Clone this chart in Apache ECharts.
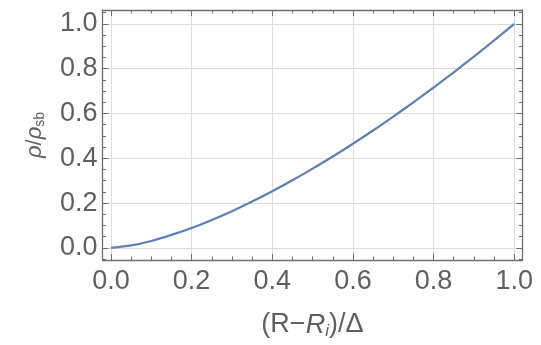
<!DOCTYPE html>
<html>
<head>
<meta charset="utf-8">
<script src="https://cdn.jsdelivr.net/npm/echarts@6/dist/echarts.min.js"></script>
<style>
  html, body { margin: 0; padding: 0; background: #fff; }
  #chart { width: 541px; height: 345px; }
</style>
</head>
<body>
<div id="chart"></div>
<script>
// Normalised radial coordinate (R - R_i)/Δ and normalised density ρ/ρ_sb
const xValues = [0, 0.05, 0.1, 0.15, 0.2, 0.25, 0.3, 0.35, 0.4, 0.45, 0.5,
                 0.55, 0.6, 0.65, 0.7, 0.75, 0.8, 0.85, 0.9, 0.95, 1.0];
const rhoValues = [0, 0.011, 0.031, 0.058, 0.089, 0.125, 0.164, 0.207, 0.253, 0.302, 0.354,
                   0.408, 0.465, 0.524, 0.586, 0.65, 0.716, 0.784, 0.854, 0.926, 1.0];

// Tick labels and tick positions
const majorTicks = [0, 0.2, 0.4, 0.6, 0.8, 1.0];
const xMinorTicks = [0.05, 0.1, 0.15, 0.25, 0.3, 0.35, 0.45, 0.5, 0.55,
                     0.65, 0.7, 0.75, 0.85, 0.9, 0.95];
const yMinorTicks = [-0.05, 0.05, 0.1, 0.15, 0.25, 0.3, 0.35, 0.45, 0.5, 0.55,
                     0.65, 0.7, 0.75, 0.85, 0.9, 0.95, 1.05];

const X_MIN = -0.021, X_MAX = 1.02;
const Y_MIN = -0.054, Y_MAX = 1.062;

const FRAME = '#6e6e6e';
const TEXT = '#5f5f5f';
const GRID = '#dcdcdc';
const FONT = '"Liberation Sans", Arial, sans-serif';

function frameAxis(kind, position, ticks, len, opts) {
  const isX = kind === 'x';
  return Object.assign({
    type: 'value',
    position: position,
    min: isX ? X_MIN : Y_MIN,
    max: isX ? X_MAX : Y_MAX,
    axisLine: { show: false, onZero: false },
    axisTick: { show: true, inside: true, length: len, customValues: ticks,
                lineStyle: { color: FRAME, width: 1 } },
    axisLabel: { show: false },
    splitLine: { show: false },
    minorTick: { show: false },
    silent: true
  }, opts || {});
}

const chart = echarts.init(document.getElementById('chart'), null, { renderer: 'canvas' });

chart.setOption({
  animation: false,
  grid: { left: 102.5, right: 18.7, top: 10, bottom: 75.7, containLabel: false },
  xAxis: [
    frameAxis('x', 'bottom', majorTicks, 6, {
      axisLine: { show: true, onZero: false, lineStyle: { color: FRAME, width: 1.3 } },
      axisLabel: { show: true, customValues: majorTicks, margin: 8,
                   color: TEXT, fontSize: 27, fontFamily: FONT,
                   formatter: v => v.toFixed(1) },
      splitLine: { show: true, lineStyle: { color: GRID, width: 1 } },
      name: '(R\u2212{it|R}{sub|i})/\u0394',
      nameLocation: 'middle',
      nameGap: 50,
      nameTextStyle: {
        color: TEXT, fontSize: 27, fontFamily: FONT, lineHeight: 30,
        rich: {
          it: { fontStyle: 'italic', fontSize: 27, fontFamily: FONT, color: TEXT, lineHeight: 30 },
          sub: { fontStyle: 'italic', fontSize: 17, fontFamily: FONT, color: TEXT,
                 lineHeight: 12, verticalAlign: 'bottom' }
        }
      }
    }),
    frameAxis('x', 'bottom', xMinorTicks, 3.5),
    frameAxis('x', 'top', majorTicks, 6, {
      axisLine: { show: true, onZero: false, lineStyle: { color: FRAME, width: 1.3 } }
    }),
    frameAxis('x', 'top', xMinorTicks, 3.5)
  ],
  yAxis: [
    frameAxis('y', 'left', majorTicks, 6, {
      axisLine: { show: true, onZero: false, lineStyle: { color: FRAME, width: 1.3 } },
      axisLabel: { show: true, customValues: majorTicks, margin: 5,
                   color: TEXT, fontSize: 27, fontFamily: FONT,
                   formatter: v => v.toFixed(1) },
      splitLine: { show: true, lineStyle: { color: GRID, width: 1 } },
      name: '{it|\u03C1}/{it|\u03C1}{sub|sb}',
      nameLocation: 'middle',
      nameGap: 55,
      nameRotate: 90,
      nameTextStyle: {
        color: TEXT, fontSize: 22, fontFamily: FONT, lineHeight: 26,
        rich: {
          it: { fontStyle: 'italic', fontSize: 22, fontFamily: FONT, color: TEXT, lineHeight: 26 },
          sub: { fontSize: 14, fontFamily: FONT, color: TEXT,
                 lineHeight: 10, verticalAlign: 'bottom' }
        }
      }
    }),
    frameAxis('y', 'left', yMinorTicks, 3.5),
    frameAxis('y', 'right', majorTicks, 6, {
      axisLine: { show: true, onZero: false, lineStyle: { color: FRAME, width: 1.3 } }
    }),
    frameAxis('y', 'right', yMinorTicks, 3.5)
  ],
  series: [{
    type: 'line',
    xAxisIndex: 0,
    yAxisIndex: 0,
    data: xValues.map((x, i) => [x, rhoValues[i]]),
    smooth: 0.25,
    showSymbol: false,
    lineStyle: { color: '#5e81b5', width: 2.2 },
    silent: true
  }]
});
</script>
</body>
</html>
